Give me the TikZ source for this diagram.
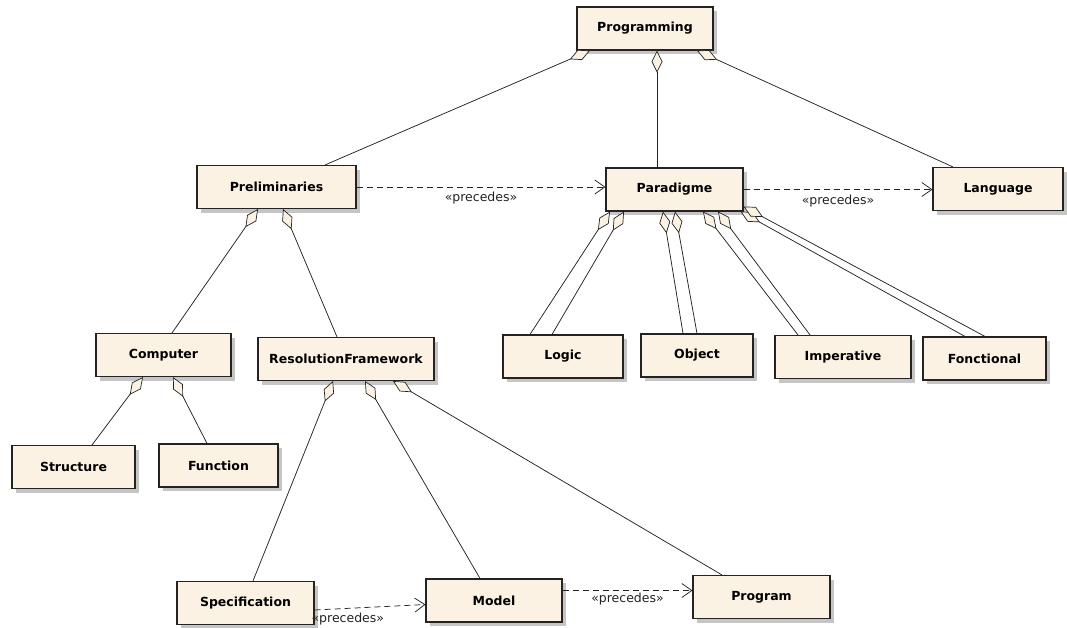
\documentclass[tikz,border=0pt]{standalone}
\usepackage{fontspec}
\setmainfont{DejaVu Sans}
\usepackage{xcolor}
\usepackage{tikz}
\usetikzlibrary{positioning, shapes, arrows.meta, calc, shadows}
\definecolor{clsfill}{RGB}{251,242,228}
\definecolor{clsline}{RGB}{35,35,35}

\begin{document}
\begin{tikzpicture}[x=1pt, y=-1pt,
          cls/.style={draw=clsline, rectangle, minimum width=#1, minimum height=43pt, fill=clsfill, line width=1.1pt, font=\fontsize{12.5}{14}\selectfont\bfseries, drop shadow={shadow xshift=4pt, shadow yshift=-4pt, fill=black!45, opacity=0.5}},
          agg/.style={{Diamond[length=22pt, width=11pt, fill=clsfill, line width=0.7pt]}-, line width=0.75pt, draw=clsline},
          dep/.style={-{Straight Barb[length=10pt, width=14pt]}, dash pattern=on 6pt off 4pt, line width=0.75pt, draw=clsline},
          lbl/.style={font=\fontsize{12.5}{14}\selectfont, text=clsline, inner sep=1pt},
        ]
        \useasboundingbox (0,0) rectangle (1067,627);
        \node[cls=136pt] (Programming) at (645,28.5) {Programming};
        \node[cls=159pt] (Preliminaries) at (276.5,187) {Preliminaries};
        \node[cls=137pt] (Paradigme) at (674.5,189.5) {Paradigme};
        \node[cls=130pt] (Language) at (998,189) {Language};
        \node[cls=135pt] (Computer) at (163.5,355) {Computer};
        \node[cls=176pt] (ResolutionFramework) at (346,359) {ResolutionFramework};
        \node[cls=120pt] (Logic) at (563,356.5) {Logic};
        \node[cls=112pt] (Object) at (697,355.5) {Object};
        \node[cls=136pt] (Imperative) at (843,357) {Imperative};
        \node[cls=123pt] (Fonctional) at (984.5,358.5) {Fonctional};
        \node[cls=123pt] (Structure) at (73.5,467) {Structure};
        \node[cls=119pt] (Function) at (218.5,465.5) {Function};
        \node[cls=137pt] (Specification) at (245.5,603) {Specification};
        \node[cls=136pt] (Model) at (494,600.5) {Model};
        \node[cls=137pt] (Program) at (761.5,597) {Program};
        \draw[agg] ([xshift=-55pt]Programming.south) -- ([xshift=48.5pt]Preliminaries.north);
        \draw[agg] ([xshift=12pt]Programming.south) -- ([xshift=-17.5pt]Paradigme.north);
        \draw[agg] ([xshift=52pt]Programming.south) -- ([xshift=-45pt]Language.north);
        \draw[agg] ([xshift=-18.5pt]Preliminaries.south) -- ([xshift=8.5pt]Computer.north);
        \draw[agg] ([xshift=6.5pt]Preliminaries.south) -- ([xshift=-9pt]ResolutionFramework.north);
        \draw[agg] ([xshift=-20.5pt]Computer.south) -- ([xshift=18.5pt]Structure.north);
        \draw[agg] ([xshift=9.5pt]Computer.south) -- ([xshift=-11.5pt]Function.north);
        \draw[agg] ([xshift=-13pt]ResolutionFramework.south) -- ([xshift=7.5pt]Specification.north);
        \draw[agg] ([xshift=19pt]ResolutionFramework.south) -- ([xshift=-14pt]Model.north);
        \draw[agg] ([xshift=47pt]ResolutionFramework.south) -- ([xshift=-39.5pt]Program.north);
        % every paradigm hangs twice under Paradigme
        \draw[agg] ([xshift=-64.5pt]Paradigme.south) -- ([xshift=-33pt]Logic.north);
        \draw[agg] ([xshift=-50.5pt]Paradigme.south) -- ([xshift=-11pt]Logic.north);
        \draw[agg] ([xshift=-11.5pt]Paradigme.south) -- ([xshift=-14pt]Object.north);
        \draw[agg] ([xshift=0.5pt]Paradigme.south) -- (Object.north);
        \draw[agg] ([xshift=28.5pt]Paradigme.south) -- ([xshift=-45pt]Imperative.north);
        \draw[agg] ([xshift=43.5pt]Paradigme.south) -- ([xshift=-33pt]Imperative.north);
        \draw[agg] ([xshift=-3pt]Paradigme.south east) -- ([xshift=-19.5pt]Fonctional.north);
        \draw[agg] ([yshift=5pt]Paradigme.south east) -- ([xshift=0.5pt]Fonctional.north);
        \draw[dep] (Preliminaries.east) -- (Preliminaries.east -| Paradigme.west) node[lbl, midway, below=4pt] {«precedes»};
        \draw[dep] (Paradigme.east) -- (Paradigme.east -| Language.west) node[lbl, midway, below=4pt] {«precedes»};
        \draw[dep] ([yshift=-7pt]Specification.east) -- ([yshift=-4pt]Model.west) node[lbl, pos=0.3, below=3pt] {«precedes»};
        \draw[dep] ([yshift=10pt]Model.east) -- ([yshift=10pt]Model.east -| Program.west) node[lbl, midway, below=1pt] {«precedes»};
        \end{tikzpicture}
\end{document}
